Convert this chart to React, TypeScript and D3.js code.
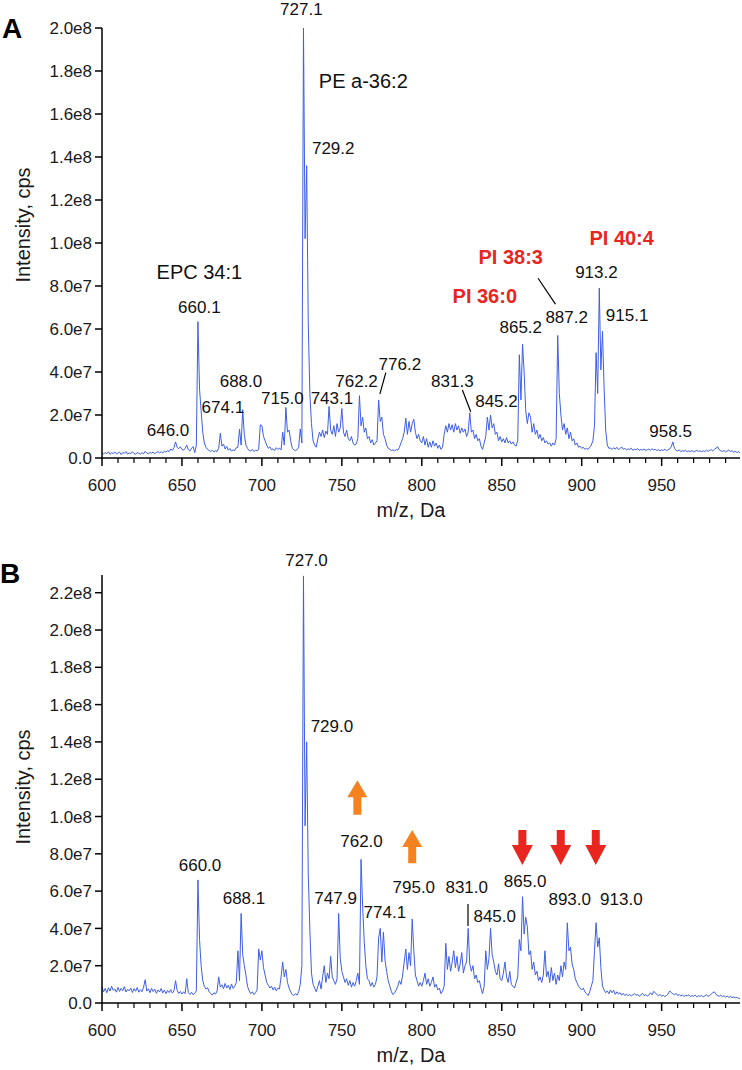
import React from "react";
import * as d3 from "d3";

// ---------- data (intensity in units of 1e6 cps, one value per m/z unit from 600) ----------
const MZ_START = 600;

const intensityA = [
  2.5, 1.8, 2.6, 2.0, 2.9, 1.7, 2.4, 2.1, 2.8, 1.9,
  2.3, 2.7, 1.6, 2.5, 2.2, 3.0, 1.8, 2.4, 2.0, 2.9,
  2.1, 1.7, 2.6, 2.2, 1.8, 2.5, 2.0, 3.1, 2.3, 1.9,
  2.6, 2.2, 2.8, 2.0, 2.5, 3.0, 2.4, 2.9, 2.3, 3.2,
  2.7, 3.4, 3.0, 4.2, 3.5, 4.8, 7.5, 5.0, 4.3, 5.2,
  4.0, 3.6, 4.5, 6.0, 3.8, 3.2, 4.6, 5.3, 2.5, 6.0,
  63.4, 32, 22, 12, 7, 5, 4, 3.5, 3, 3.6,
  2.8, 3.4, 3.0, 4.5, 11.5, 5.5, 6.5, 4.2, 5.4, 3.6,
  4.4, 3.2, 3.8, 3.5, 4.8, 5.0, 13.5, 6.0, 22.5, 11,
  6, 4.5, 3.5, 3.2, 4.0, 3.0, 3.6, 3.3, 4.2, 15.5,
  15, 10, 8, 6, 4.5, 5.2, 3.8, 4.3, 3.5, 4.8,
  4.0, 4.6, 3.8, 12, 6, 23.5, 12, 13, 8, 4.5,
  3.8, 3.4, 3.9, 5.0, 13.5, 7, 200, 102, 136, 62,
  30, 16, 8, 6, 5, 9, 12, 10, 13, 9.5,
  12.5, 11, 24, 13, 11, 15, 10, 16, 12, 14,
  23, 12, 10, 13, 9, 8, 10, 7, 6, 6.5,
  9, 29, 15, 19, 12, 14, 9, 10, 7, 8.5,
  6, 7, 8, 27, 17, 19, 11, 9, 6, 4.5,
  4, 3.5, 3.8, 3.2, 4.0, 3.6, 5, 7, 9, 12,
  18.5, 11, 17, 12, 16, 18, 12, 9, 11, 8,
  7, 10, 6, 9, 5, 7.5, 5, 8, 5.5, 7,
  4.5, 6, 4, 5, 11, 15, 12, 16, 13, 15.5,
  12, 16, 13, 15, 11.5, 14, 12, 13.5, 10, 12,
  21, 12, 13, 9, 11, 8, 9, 5.5, 4, 7,
  10, 19, 13, 20, 14, 16, 11, 12, 8, 10,
  7.5, 9, 7, 9.5, 7, 8, 6.5, 7.5, 6, 5.5,
  8, 48, 27, 53, 40, 22, 16, 21, 19, 12,
  16, 11, 13, 9, 11, 8, 9.5, 7, 8, 6.5,
  7, 5.5, 7, 6, 9, 57, 30, 20, 13, 16,
  11, 14, 9, 12, 8, 9, 6, 7, 5, 5.5,
  4.5, 5, 4, 4.5, 4, 5, 6, 8, 15, 49,
  30, 79, 41, 59, 33, 13, 6, 4.5, 4.6, 4.0,
  4.8, 4.1, 5.0, 3.9, 4.4, 5.2, 4.0, 4.5, 3.7, 4.3,
  3.9, 4.6, 3.6, 4.1, 3.8, 4.4, 3.5, 4.0, 3.7, 4.2,
  3.4, 3.9, 4.1, 3.6, 4.3, 3.8, 4.0, 3.5, 3.9, 3.3,
  3.8, 3.5, 4.1, 3.4, 3.8, 4.2, 5.2, 7.5, 4.5, 3.6,
  3.2, 3.8, 3.0, 3.4, 3.1, 3.6, 2.9, 3.3, 3.0, 3.5,
  2.8, 3.2, 3.6, 3.0, 3.4, 2.9, 3.3, 3.0, 3.7, 3.1,
  3.5, 3.9, 3.3, 4.0, 4.6, 5.2, 3.8, 3.4, 3.0, 3.5,
  2.8, 3.3, 3.7, 3.0, 3.4, 2.7, 3.1, 2.6, 2.9, 2.5,
];

const intensityB = [
  8.5, 6.0, 7.8, 5.5, 8.2, 6.4, 9.0, 6.8, 7.5, 5.8,
  8.4, 6.2, 7.9, 6.6, 8.8, 5.9, 7.4, 6.5, 8.0, 5.6,
  7.7, 6.3, 8.3, 5.8, 7.1, 6.0, 8.5, 12.5, 6.4, 7.6,
  5.5, 7.9, 6.1, 7.4, 5.2, 7.0, 5.9, 7.8, 5.4, 6.9,
  5.0, 6.7, 5.6, 7.2, 5.3, 6.5, 12, 6.8, 5.1, 6.2,
  4.8, 6.0, 5.0, 13, 5.5, 4.6, 5.8, 4.4, 5.2, 6.5,
  66, 34, 20, 12, 9, 7.5, 8.2, 6.0, 5.2, 4.2,
  5.5, 4.8, 6.5, 14, 8.5, 9.8, 7.6, 10.5, 8.0, 9.5,
  7.2, 10.2, 7.8, 9.0, 11, 28, 12, 48, 26, 20,
  15, 9, 6.5, 5.0, 6.0, 4.5, 5.5, 7.0, 29, 23,
  28, 19, 15, 11, 9.5, 8.0, 9.0, 7.0, 8.5, 6.5,
  8.0, 7.5, 14, 22, 14, 18, 11, 8, 6, 4.5,
  4.0, 5.0, 4.2, 6.0, 10, 20, 229, 95, 140, 69,
  39, 16, 10, 8, 6, 9.0, 12, 7.5, 14, 20,
  11, 16, 13, 25, 14, 12, 10, 13, 48, 24,
  17, 14, 11, 13, 9.5, 12, 8.5, 11, 9, 12,
  16, 10, 77, 52, 33, 20, 13, 12, 9, 11,
  8.5, 10, 14, 35, 40, 22, 38, 23, 17, 12,
  9, 6, 4.5, 5.5, 7, 9, 12, 10, 15, 22,
  29, 18, 27, 20, 45, 28, 15, 12, 9, 11,
  9, 12, 16, 10, 13, 9, 11, 14, 8.5, 10,
  7, 8, 5, 6.5, 9, 32, 18, 25, 17, 22,
  28, 19, 25, 17, 21, 27, 16, 20, 22, 40,
  21, 17, 20, 13, 15, 11, 12, 8, 5, 9,
  28, 18, 24, 40, 26, 22, 17, 15, 21, 13,
  12, 16, 22, 14, 11, 17, 10, 9, 8, 11,
  14, 34, 28, 57, 37, 46, 41, 26, 28, 18,
  22, 15, 17, 12, 14, 11, 15, 28, 14, 17,
  11, 19, 12, 16, 10, 15, 12, 20, 14, 22,
  18, 43, 28, 30, 21, 18, 13, 11, 9, 8,
  7, 8, 6, 5, 4, 6, 9, 12, 28, 43,
  30, 35, 19, 9, 7, 5.5, 6.5, 5.0, 7.0, 5.5,
  6.8, 4.6, 6.0, 4.8, 5.6, 4.2, 5.2, 4.0, 4.8, 3.9,
  4.6, 3.8, 4.4, 5.0, 4.1, 4.7, 3.6, 4.3, 5.2, 4.0,
  4.5, 3.7, 4.2, 5.5, 4.4, 6.2, 5.6, 4.5, 3.9, 4.6,
  3.6, 4.2, 3.4, 4.0, 4.8, 6.5, 5.6, 5.0, 4.3, 5.2,
  4.0, 4.6, 3.7, 4.3, 3.5, 4.1, 3.8, 4.4, 3.4, 4.0,
  3.6, 4.2, 3.3, 3.9, 3.5, 4.1, 3.2, 3.8, 4.4, 3.6,
  4.0, 4.8, 5.5, 6.0, 4.6, 4.0, 3.6, 4.2, 3.4, 3.9,
  3.2, 3.7, 3.0, 3.5, 2.9, 3.3, 2.8, 3.0, 2.6, 2.4,
];

const xMajorTicks = [600, 650, 700, 750, 800, 850, 900, 950];
const xMinorTicks = [610, 620, 630, 640, 660, 670, 680, 690, 710, 720, 730, 740, 760, 770, 780, 790,
  810, 820, 830, 840, 860, 870, 880, 890, 910, 920, 930, 940, 960, 970, 980, 990];

const yTicksA = [0, 20, 40, 60, 80, 100, 120, 140, 160, 180, 200];
const yTickLabelsA = ["0.0", "2.0e7", "4.0e7", "6.0e7", "8.0e7", "1.0e8", "1.2e8", "1.4e8", "1.6e8", "1.8e8", "2.0e8"];
const yTicksB = [0, 20, 40, 60, 80, 100, 120, 140, 160, 180, 200, 220];
const yTickLabelsB = ["0.0", "2.0e7", "4.0e7", "6.0e7", "8.0e7", "1.0e8", "1.2e8", "1.4e8", "1.6e8", "1.8e8", "2.0e8", "2.2e8"];

// peak labels: [text, m/z position, intensity position, anchor, style]
type Lab = [string, number, number, string, string];
const labelsA: Lab[] = [
  ["727.1", 724.7, 206, "middle", "n"],
  ["729.2", 731.3, 141.4, "start", "n"],
  ["PE a-36:2", 735.6, 172.1, "start", "big"],
  ["EPC 34:1", 660.9, 83.3, "middle", "big"],
  ["660.1", 660.9, 67.6, "middle", "n"],
  ["646.0", 641.3, 10.2, "middle", "n"],
  ["674.1", 675.6, 20.9, "middle", "n"],
  ["688.0", 686.9, 33.0, "middle", "n"],
  ["715.0", 712.8, 25.1, "middle", "n"],
  ["743.1", 743.8, 25.1, "middle", "n"],
  ["762.2", 759.2, 33.2, "middle", "n"],
  ["776.2", 786.3, 40.9, "middle", "n"],
  ["831.3", 819.1, 33.2, "middle", "n"],
  ["845.2", 846.7, 23.9, "middle", "n"],
  ["865.2", 861.9, 58.0, "middle", "n"],
  ["887.2", 890.6, 62.9, "middle", "n"],
  ["913.2", 909.2, 83.6, "middle", "n"],
  ["915.1", 928.4, 63.9, "middle", "n"],
  ["958.5", 955.6, 9.9, "middle", "n"],
  ["PI 36:0", 839.4, 72.0, "middle", "red"],
  ["PI 38:3", 855.6, 90.1, "middle", "red"],
  ["PI 40:4", 925.0, 98.9, "middle", "red"],
];
const labelsB: Lab[] = [
  ["727.0", 727.9, 234.3, "middle", "n"],
  ["729.0", 743.8, 145.2, "middle", "n"],
  ["660.0", 661.3, 70.9, "middle", "n"],
  ["688.1", 688.8, 52.9, "middle", "n"],
  ["747.9", 746.1, 52.9, "middle", "n"],
  ["762.0", 762.3, 83.8, "middle", "n"],
  ["774.1", 776.9, 45.4, "middle", "n"],
  ["795.0", 795.0, 58.8, "middle", "n"],
  ["831.0", 828.1, 58.8, "middle", "n"],
  ["845.0", 845.6, 43.6, "middle", "n"],
  ["865.0", 864.6, 62.0, "middle", "n"],
  ["893.0", 892.5, 52.5, "middle", "n"],
  ["913.0", 924.8, 52.5, "middle", "n"],
];

// leader lines: [mz1, v1, mz2, v2]
const leadersA = [
  [777.5, 39.7, 773.8, 29.8],
  [825.4, 31.6, 830.6, 21.5],
  [872.7, 83.6, 883.6, 71.6],
];
const leadersB = [[828.9, 53.1, 828.9, 41.3]];

// arrows: [mz, tip intensity, tail intensity]
const upArrowsB = [
  [759.7, 119.5, 101],
  [794.0, 92.7, 75],
];
const downArrowsB = [
  [862.9, 74, 92.7],
  [886.9, 74, 92.7],
  [908.8, 74, 92.7],
];

// ---------- layout ----------
const W = 742;
const H = 1070;
const LEFT = 102;
const RIGHT = 740;
const FONT = "'Liberation Sans', Arial, Helvetica, sans-serif";
const LINE_COLOR = "#3d5fe3";
const RED = "#e8251f";
const ORANGE = "#f58220";

const x = d3.scaleLinear().domain([600, 999]).range([LEFT, RIGHT]);

type PanelCfg = {
  letter: string;
  data: number[];
  yMax: number;
  top: number;
  bottom: number;
  yTicks: number[];
  yLabels: string[];
  labels: Lab[];
  leaders: number[][];
  ylabelY: number;
  up: number[][];
  down: number[][];
};

function Panel({ cfg }: { cfg: PanelCfg }) {
  const y = d3.scaleLinear().domain([0, cfg.yMax]).range([cfg.bottom, cfg.top]);
  const pts = cfg.data.map((v, i) => [MZ_START + i, v] as [number, number]);
  const line = d3
    .line<[number, number]>()
    .x((d) => x(d[0]))
    .y((d) => y(d[1]));
  const path = line(pts) || "";
  return (
    <g>
      <text x={cfg.letter === "A" ? 2 : 0} y={cfg.top + (cfg.letter === "A" ? 10 : 8)} fontFamily={FONT} fontWeight="bold" fontSize={28} fill="#000">
        {cfg.letter}
      </text>
      <path d={path} fill="none" stroke={LINE_COLOR} strokeWidth={1} strokeLinejoin="round" />
      {/* y axis */}
      <line x1={LEFT} x2={LEFT} y1={cfg.top} y2={cfg.bottom} stroke="#000" strokeWidth={1.5} />
      {cfg.yTicks.map((t, i) => (
        <g key={"yt" + t}>
          <line x1={LEFT - 7} x2={LEFT} y1={y(t)} y2={y(t)} stroke="#000" strokeWidth={1.5} />
          <text x={LEFT - 10} y={y(t)} dy="0.36em" textAnchor="end" fontFamily={FONT} fontSize={17} fill="#1a1a1a">
            {cfg.yLabels[i]}
          </text>
        </g>
      ))}
      {/* x axis */}
      <line x1={LEFT} x2={RIGHT} y1={cfg.bottom} y2={cfg.bottom} stroke="#000" strokeWidth={1.5} />
      {xMajorTicks.map((t) => (
        <g key={"xt" + t}>
          <line x1={x(t)} x2={x(t)} y1={cfg.bottom} y2={cfg.bottom + 8} stroke="#000" strokeWidth={1.5} />
          <text x={x(t)} y={cfg.bottom + 33} textAnchor="middle" fontFamily={FONT} fontSize={17} fill="#1a1a1a">
            {t}
          </text>
        </g>
      ))}
      {xMinorTicks.map((t) => (
        <line key={"xm" + t} x1={x(t)} x2={x(t)} y1={cfg.bottom} y2={cfg.bottom + 5} stroke="#000" strokeWidth={1.2} />
      ))}
      <text x={411} y={cfg.bottom + 59} textAnchor="middle" fontFamily={FONT} fontSize={20} fill="#1a1a1a">
        m/z, Da
      </text>
      <text
        transform={`translate(30,${cfg.ylabelY}) rotate(-90)`}
        textAnchor="middle"
        fontFamily={FONT}
        fontSize={20}
        fill="#1a1a1a"
      >
        Intensity, cps
      </text>
      {/* leaders */}
      {cfg.leaders.map((l, i) => (
        <line key={"ld" + i} x1={x(l[0])} y1={y(l[1])} x2={x(l[2])} y2={y(l[3])} stroke="#000" strokeWidth={1.2} />
      ))}
      {/* labels */}
      {cfg.labels.map((l, i) => {
        const style = l[4];
        return (
          <text
            key={"lb" + i}
            x={x(l[1])}
            y={y(l[2])}
            textAnchor={l[3]}
            fontFamily={FONT}
            fontSize={style === "n" ? 17 : 20}
            fontWeight={style === "red" ? "bold" : "normal"}
            fill={style === "red" ? RED : "#111"}
          >
            {l[0]}
          </text>
        );
      })}
      {/* arrows */}
      {cfg.up.map((a, i) => {
        const cx = x(a[0]);
        const tip = y(a[1]);
        const tail = y(a[2]);
        const hb = tip + 17;
        const d = `M${cx},${tip} L${cx + 10},${hb} L${cx + 4},${hb} L${cx + 4},${tail} L${cx - 4},${tail} L${cx - 4},${hb} L${cx - 10},${hb} Z`;
        return <path key={"ua" + i} d={d} fill={ORANGE} />;
      })}
      {cfg.down.map((a, i) => {
        const cx = x(a[0]);
        const tip = y(a[1]);
        const tail = y(a[2]);
        const hb = tip - 20;
        const d = `M${cx},${tip} L${cx + 10.5},${hb} L${cx + 4},${hb} L${cx + 4},${tail} L${cx - 4},${tail} L${cx - 4},${hb} L${cx - 10.5},${hb} Z`;
        return <path key={"da" + i} d={d} fill={RED} />;
      })}
    </g>
  );
}

const panels: PanelCfg[] = [
  {
    letter: "A",
    data: intensityA,
    yMax: 200,
    top: 28,
    bottom: 458,
    yTicks: yTicksA,
    yLabels: yTickLabelsA,
    labels: labelsA,
    leaders: leadersA,
    ylabelY: 225,
    up: [],
    down: [],
  },
  {
    letter: "B",
    data: intensityB,
    yMax: 229.5,
    top: 575,
    bottom: 1003,
    yTicks: yTicksB,
    yLabels: yTickLabelsB,
    labels: labelsB,
    leaders: leadersB,
    ylabelY: 787,
    up: upArrowsB,
    down: downArrowsB,
  },
];

export default function App() {
  return (
    <svg
      width={W}
      height={H}
      viewBox={`0 0 ${W} ${H}`}
      style={{ position: "absolute", left: 0, top: 0, background: "#fff" }}
    >
      <rect width={W} height={H} fill="#fff" />
      {panels.map((p) => (
        <Panel key={p.letter} cfg={p} />
      ))}
    </svg>
  );
}
